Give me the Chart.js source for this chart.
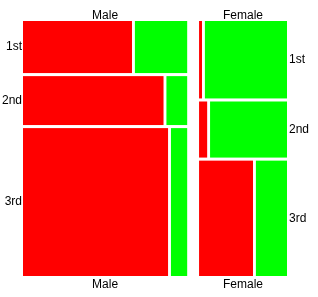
<!DOCTYPE html>
<html>
<head>
<meta charset="utf-8">
<script src="https://cdn.jsdelivr.net/npm/chart.js@4"></script>
<style>
  html, body { margin: 0; padding: 0; background: #fff; }
  #wrap { width: 318px; height: 297px; }
</style>
</head>
<body>
<div id="wrap"><canvas id="mosaic" width="318" height="297"></canvas></div>
<script>
const sexes = ['Male', 'Female'];
const classes = ['1st', '2nd', '3rd'];
// counts estimated from tile sizes, order [1st, 2nd, 3rd]
const maleDied = [123, 149, 465];
const maleSurvived = [59, 22, 52];
const femaleDied = [5, 10, 137];
const femaleSurvived = [140, 95, 79];

const colGap = 0.045, rowGap = 0.012, cellGap = 0.011;
const sum = a => a.reduce((s, v) => s + v, 0);
const groups = [
    { died: maleDied, survived: maleSurvived },
    { died: femaleDied, survived: femaleSurvived }
];
const totals = groups.map(g => sum(g.died) + sum(g.survived));
const grand = sum(totals);

// build tiles in scale units (0..1 both ways)
const tiles = [];
const colCenters = [];
const rowCenters = [[], []];
let x0 = 0;
groups.forEach((g, i) => {
    const w = (1 - colGap) * totals[i] / grand;
    colCenters.push(x0 + w / 2);
    let y0 = 0;
    classes.forEach((c, j) => {
        const n = g.died[j] + g.survived[j];
        const h = (1 - rowGap * (classes.length - 1)) * n / totals[i];
        rowCenters[i].push(y0 + h / 2);
        const wd = (w - cellGap) * g.died[j] / n;
        tiles.push({ x0: x0, x1: x0 + wd, y0: y0, y1: y0 + h, color: '#ff0000' });
        tiles.push({ x0: x0 + wd + cellGap, x1: x0 + w, y0: y0, y1: y0 + h, color: '#00ff00' });
        y0 += h + rowGap;
    });
    x0 += w + colGap;
});

const mosaicTiles = {
    id: 'mosaicTiles',
    beforeDatasetsDraw(chart) {
        const { ctx, scales: { x, y } } = chart;
        ctx.save();
        tiles.forEach(t => {
            const left = x.getPixelForValue(t.x0), right = x.getPixelForValue(t.x1);
            const top = y.getPixelForValue(t.y0), bottom = y.getPixelForValue(t.y1);
            ctx.fillStyle = t.color;
            ctx.fillRect(left, top, right - left, bottom - top);
        });
        ctx.restore();
    }
};

const tickFont = { family: '"Liberation Sans", Arial, sans-serif', size: 12 };
const fixedTicks = values => scale => { scale.ticks = values.map(v => ({ value: v })); };

function axis(position, values, labels, size, pad) {
    const horizontal = position === 'top' || position === 'bottom';
    return {
        type: 'linear',
        position: position,
        min: 0,
        max: 1,
        reverse: !horizontal,
        grid: { display: false, drawTicks: false },
        border: { display: false },
        afterBuildTicks: fixedTicks(values),
        afterFit: s => { if (horizontal) s.height = size; else s.width = size; },
        ticks: {
            autoSkip: false,
            maxRotation: 0,
            padding: pad,
            color: '#000',
            font: tickFont,
            callback: (v, i) => labels[i]
        }
    };
}

new Chart(document.getElementById('mosaic'), {
    type: 'scatter',
    data: { datasets: [] },
    options: {
        responsive: false,
        animation: false,
        devicePixelRatio: 1,
        layout: { padding: 0 },
        plugins: { legend: { display: false }, tooltip: { enabled: false } },
        scales: {
            x: axis('bottom', colCenters, sexes, 21, 1),
            xTop: axis('top', colCenters, sexes, 21, -2),
            y: axis('left', rowCenters[0], classes, 23, 1),
            yRight: axis('right', rowCenters[1], classes, 31, 2)
        }
    },
    plugins: [mosaicTiles]
});
</script>
</body>
</html>
